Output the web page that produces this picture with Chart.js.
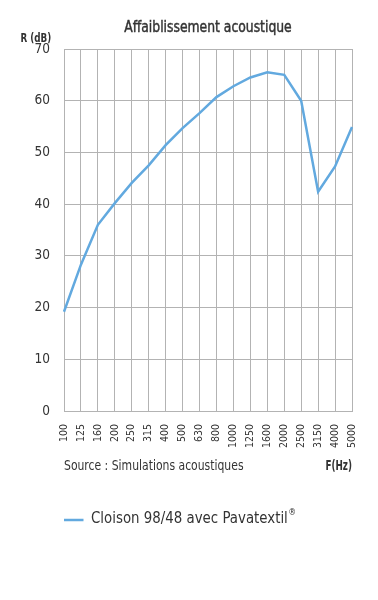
<!DOCTYPE html>
<html><head><meta charset="utf-8">
<script src="https://cdn.jsdelivr.net/npm/chart.js@4.4.1/dist/chart.umd.min.js"></script>
<style>html,body{margin:0;padding:0;background:#fff}canvas{display:block}</style>
</head><body>
<canvas id="c" width="378" height="600"></canvas>
<script>
const categories = ["100","125","160","200","250","315","400","500","630","800","1000","1250","1600","2000","2500","3150","4000","5000"];
const seriesValues = [19.2,28.3,36.0,40.2,44.1,47.5,51.4,54.7,57.6,60.7,62.8,64.5,65.5,65.0,60.0,42.4,47.3,54.9];
const yTicks = [0,10,20,30,40,50,60,70];
const seriesName = "Cloison 98/48 avec Pavatextil";
const seriesMark = "®";
const titleText = "Affaiblissement acoustique";
const yUnit = "R (dB)";
const xUnit = "F(Hz)";
const sourceText = "Source : Simulations acoustiques";

const FONT = "'DejaVu Sans Condensed','DejaVu Sans',sans-serif";
const LINE = "#62a9df";
const TXT = "#333333";
const GRID = "#b3b3b3";

function drawText(ctx, text, x, y, font, align, sx, stroke) {
  ctx.save();
  ctx.font = font;
  ctx.textAlign = align;
  ctx.textBaseline = 'alphabetic';
  ctx.translate(x, y);
  ctx.scale(sx, 1);
  ctx.fillText(text, 0, 0);
  if (stroke) {
    ctx.strokeStyle = ctx.fillStyle;
    ctx.lineWidth = stroke;
    ctx.strokeText(text, 0, 0);
  }
  const w = ctx.measureText(text).width * sx;
  ctx.restore();
  return w;
}

const textPlugin = {
  id: 'texts',
  afterDraw(chart) {
    const ctx = chart.ctx, a = chart.chartArea;
    ctx.save();
    ctx.fillStyle = TXT;
    drawText(ctx, titleText, (a.left + a.right) / 2, 31.5, "16px " + FONT, 'center', 0.86, 0.45);
    drawText(ctx, yUnit, 20.5, 41.5, "bold 12.5px " + FONT, 'left', 0.78);
    drawText(ctx, sourceText, a.left, 469.5, "14px " + FONT, 'left', 0.86);
    drawText(ctx, xUnit, a.right, 469.5, "bold 14px " + FONT, 'right', 0.7);
    // legend
    ctx.strokeStyle = LINE;
    ctx.lineWidth = 2.5;
    ctx.beginPath();
    ctx.moveTo(a.left, 520);
    ctx.lineTo(a.left + 19.5, 520);
    ctx.stroke();
    const w = drawText(ctx, seriesName, a.left + 27, 522.5, "15px " + FONT, 'left', 0.99);
    drawText(ctx, seriesMark, a.left + 27 + w + 0.5, 515, "9px " + FONT, 'left', 0.97);
    ctx.restore();
  }
};

new Chart(document.getElementById('c'), {
  type: 'line',
  data: {
    labels: categories,
    datasets: [{
      label: seriesName + seriesMark,
      data: seriesValues,
      borderColor: LINE,
      borderWidth: 2.5,
      pointRadius: 0,
      tension: 0,
      fill: false
    }]
  },
  options: {
    responsive: false,
    animation: false,
    events: [],
    layout: { padding: { top: 49, left: 0, right: 26, bottom: 139 } },
    plugins: { legend: { display: false }, title: { display: false }, tooltip: { enabled: false } },
    scales: {
      x: {
        type: 'category',
        offset: false,
        grid: { color: GRID, lineWidth: 1, drawTicks: false },
        border: { color: GRID },
        ticks: { color: TXT, font: { family: FONT, size: 10.5 }, minRotation: 90, maxRotation: 90, padding: 13, autoSkip: false },
        afterFit(s) { s.height = 50; }
      },
      y: {
        min: 0, max: 70,
        afterBuildTicks(s) { s.ticks = yTicks.map(v => ({ value: v })); },
        grid: { color: GRID, lineWidth: 1, drawTicks: false },
        border: { color: GRID },
        ticks: { color: TXT, font: { family: FONT, size: 13.5 }, padding: 14 },
        afterFit(s) { s.width = 64; }
      }
    }
  },
  plugins: [textPlugin]
});
</script>
</body></html>
